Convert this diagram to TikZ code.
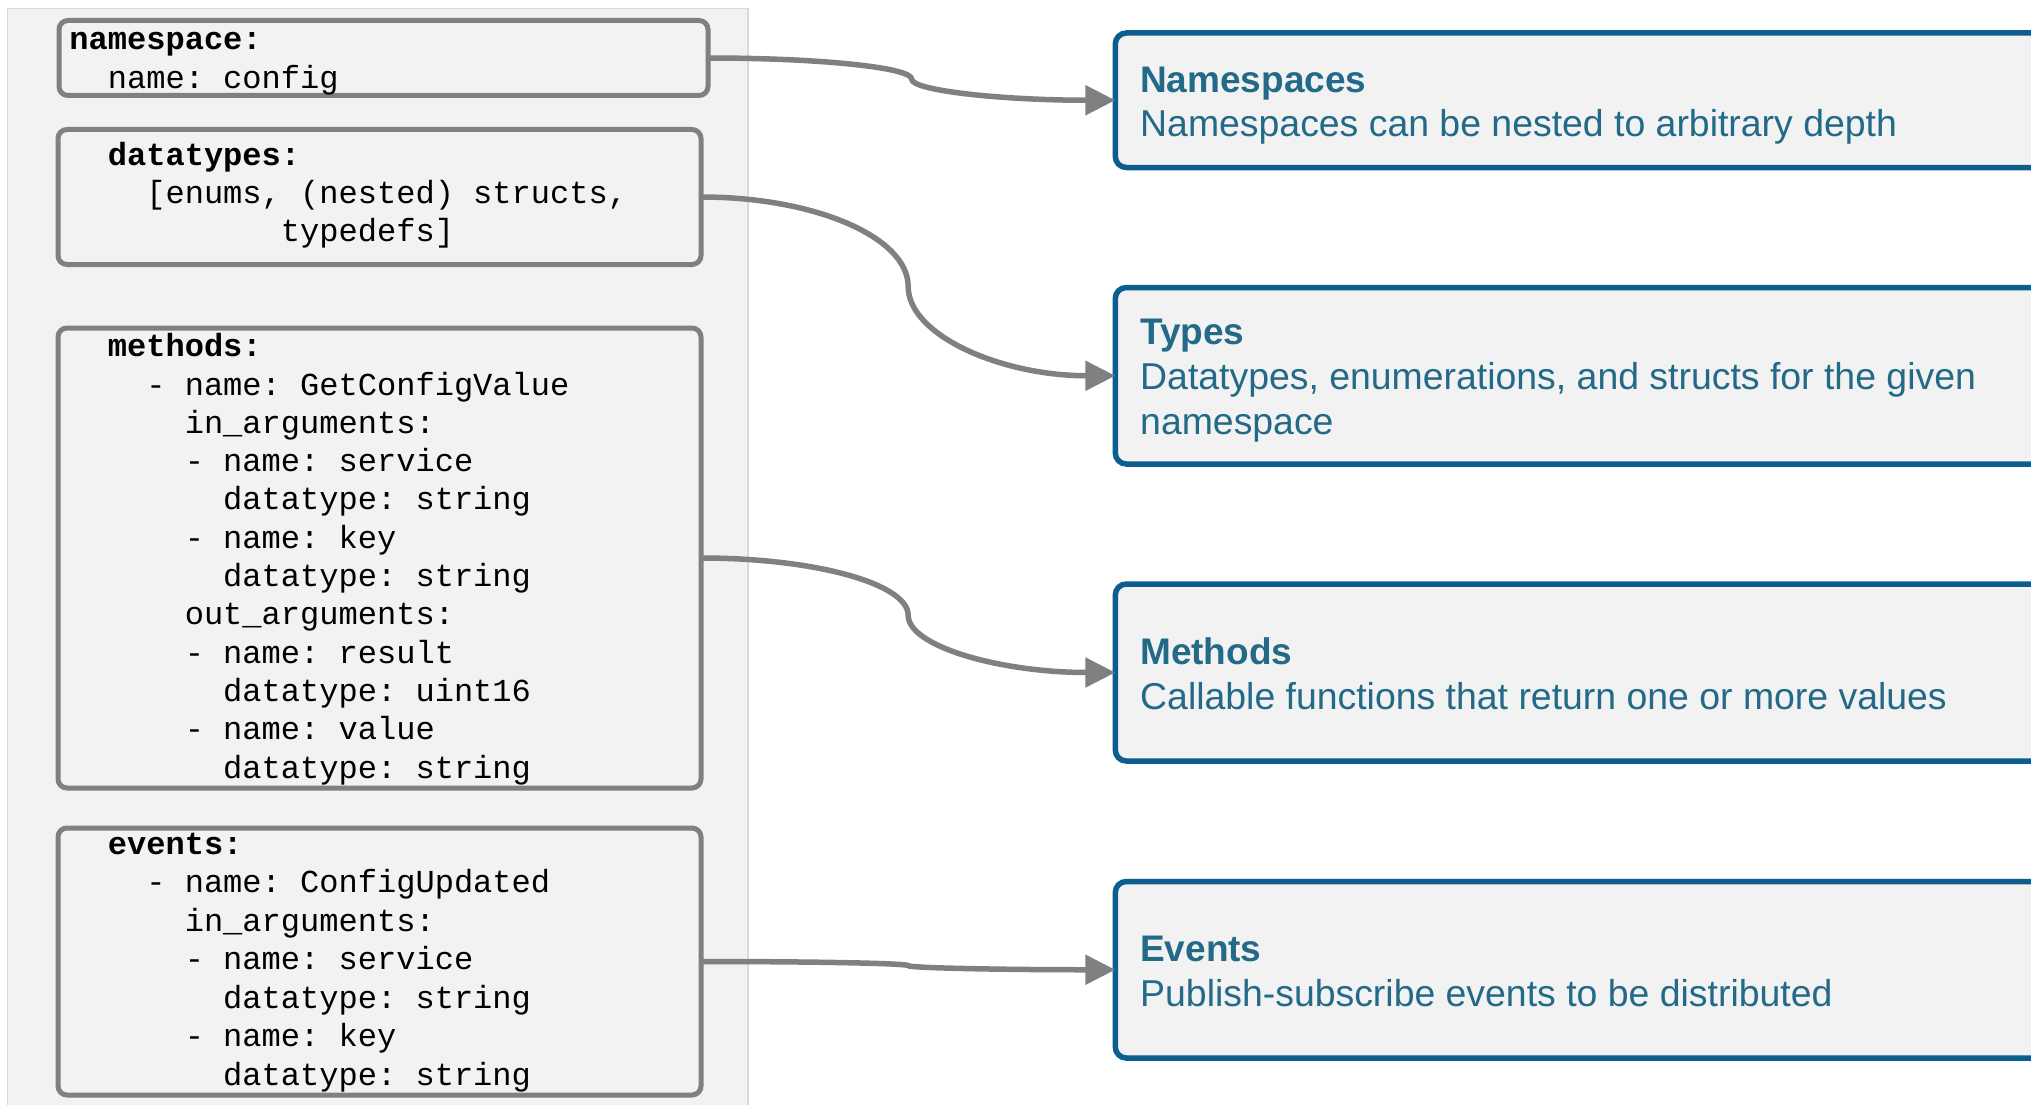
\documentclass[tikz,border=0pt]{standalone}
\usepackage{fontspec}
\setmainfont{Liberation Sans}
\newfontfamily\codefont{Liberation Mono}
\usetikzlibrary{arrows.meta,calc}

\definecolor{panelfill}{HTML}{F2F2F2}
\definecolor{panelline}{HTML}{D9D9D9}
\definecolor{codeline}{HTML}{808080}
\definecolor{topicline}{HTML}{0B5E8E}
\definecolor{topictext}{HTML}{236A88}

% curved connector: leaves the source horizontally, turns vertical half way, enters the target horizontally
\newcommand\linkboxes[2]{%
  \draw[link] let \p1=(#1.east), \p2=(#2.west),
      \n1={0.5*(\x1+\x2)}, \n2={0.5*(\y1+\y2)},
      \n3={\x1+0.55*(\n1-\x1)}, \n4={\n2+0.55*(\y1-\n2)},
      \n5={\n2+0.55*(\y2-\n2)}, \n6={\x2-0.55*(\x2-\n1)} in
    (\p1) .. controls (\n3,\y1) and (\n1,\n4) .. (\n1,\n2)
          .. controls (\n1,\n5) and (\n6,\y2) .. (\p2);}

\begin{document}
\begin{tikzpicture}[x=1pt,y=-1pt,
  codebox/.style={draw=codeline, line width=5pt, fill=panelfill, rounded corners=9pt,
    rectangle, inner sep=0pt, outer sep=0pt, anchor=north west},
  topicbox/.style={draw=topicline, line width=5.5pt, fill=panelfill, rounded corners=11pt,
    rectangle, inner sep=0pt, outer sep=0pt, anchor=north west, minimum width=1000pt},
  codetext/.style={anchor=base west, inner sep=0pt,
    font=\codefont\fontsize{32.05pt}{38pt}\selectfont\frenchspacing},
  titletext/.style={anchor=base west, inner sep=0pt, text=topictext, font=\bfseries\fontsize{37pt}{45pt}\selectfont},
  desctext/.style={anchor=base west, inner sep=0pt, text=topictext, font=\fontsize{37.4pt}{45pt}\selectfont},
  link/.style={draw=codeline, line width=5.5pt, -{Triangle[length=30pt,width=29pt]}}]

\useasboundingbox (0,0) rectangle (2031,1105);
\clip (0,0) rectangle (2031,1105);
\fill[white] (0,0) rectangle (2031,1105);

% code panel
\filldraw[fill=panelfill, draw=panelline, line width=1.5pt] (7.5,8.5) rectangle (748,1130);

% code boxes
\node[codebox, minimum width=649pt, minimum height=75pt]  (ns) at (59,20.5) {};
\node[codebox, minimum width=643pt, minimum height=135pt] (dt) at (58,129.5) {};
\node[codebox, minimum width=643pt, minimum height=460pt] (me) at (58,328) {};
\node[codebox, minimum width=643pt, minimum height=267pt] (ev) at (58,828) {};

% code lines (column width 19.23pt)
\foreach \c/\t [count=\i from 0] in {0/\textbf{namespace:}, 2/name: config}
  \node[codetext] (ns-\i) at ({69.2+19.23*\c}, {50+38.4*\i}) {\t};
\foreach \c/\t [count=\i from 0] in {2/\textbf{datatypes:}, 4/{[enums, (nested) structs,}, 11/typedefs]}
  \node[codetext] (dt-\i) at ({69.2+19.23*\c}, {165+38.4*\i}) {\t};
\foreach \c/\t [count=\i from 0] in {2/\textbf{methods:}, 4/- name: GetConfigValue, 6/in\_arguments:,
    6/- name: service, 8/datatype: string, 6/- name: key, 8/datatype: string, 6/out\_arguments:,
    6/- name: result, 8/datatype: uint16, 6/- name: value, 8/datatype: string}
  \node[codetext] (me-\i) at ({69.2+19.23*\c}, {356.7+38.3*\i}) {\t};
\foreach \c/\t [count=\i from 0] in {2/\textbf{events:}, 4/- name: ConfigUpdated, 6/in\_arguments:,
    6/- name: service, 8/datatype: string, 6/- name: key, 8/datatype: string}
  \node[codetext] (ev-\i) at ({69.2+19.23*\c}, {854+38.5*\i}) {\t};

% topic boxes
\node[topicbox, minimum height=134.5pt] (nsd) at (1115.3,33) {};
\node[topicbox, minimum height=176.5pt] (dtd) at (1115.3,287.5) {};
\node[topicbox, minimum height=177pt]   (med) at (1115.3,584) {};
\node[topicbox, minimum height=176.5pt] (evd) at (1115.3,881.5) {};

\node[titletext] (nsd-t) at (1140,92.5) {Namespaces};
\node[desctext]  (nsd-d) at (1140,137) {Namespaces can be nested to arbitrary depth};
\node[titletext] (dtd-t) at (1140,344.5) {Types};
\node[desctext]  (dtd-d) at (1140,389.5) {Datatypes, enumerations, and structs for the given};
\node[desctext]  (dtd-e) at (1140,434) {namespace};
\node[titletext] (med-t) at (1140,664) {Methods};
\node[desctext]  (med-d) at (1140,709) {Callable functions that return one or more values};
\node[titletext] (evd-t) at (1140,961.5) {Events};
\node[desctext]  (evd-d) at (1140,1006.5) {Publish-subscribe events to be distributed};

% connectors
\linkboxes{ns}{nsd}
\linkboxes{dt}{dtd}
\linkboxes{me}{med}
\linkboxes{ev}{evd}

\end{tikzpicture}
\end{document}
